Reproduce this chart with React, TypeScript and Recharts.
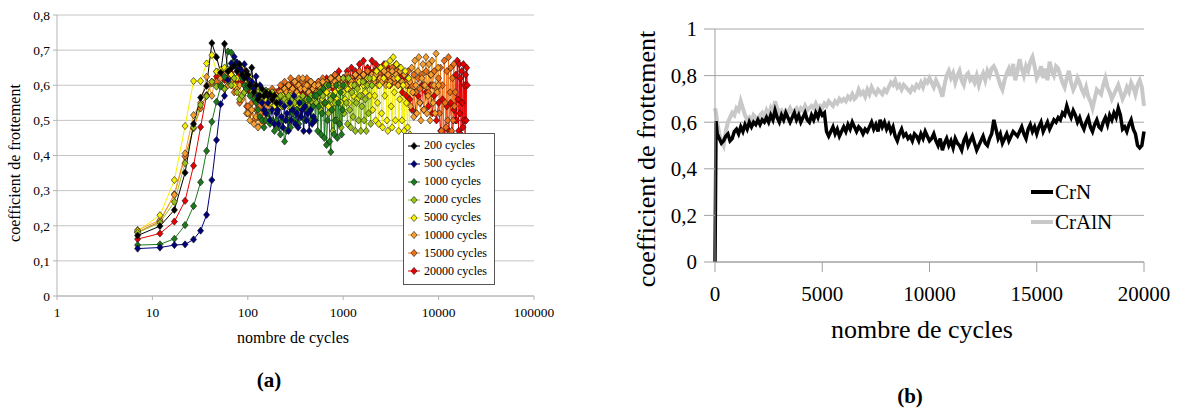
import { LineChart, Line, XAxis, YAxis, CartesianGrid, Legend } from "recharts"

const SERIF = "Liberation Serif"

// ---- panel (a): friction vs cycles (log x), one series per test length ----
const xRise = [7, 12, 17, 22, 27, 32, 37, 42, 47, 52, 57, 62, 67, 72, 77, 82, 87, 92, 97]
// coarse grid shared by all series before their own end segment
const xTail = [
  100, 105, 110, 116, 122, 128, 134, 141, 148, 155, 163, 171, 180, 190, 200,
  210, 220, 232, 243, 255, 268, 281, 295, 310, 326, 342, 359, 377, 396, 416, 437, 459, 482, 500,
  525, 550, 580, 610, 640, 670, 700, 740, 780, 820, 860, 900, 950, 1000,
  1050, 1100, 1160, 1220, 1280, 1340, 1410, 1480, 1550, 1630, 1710, 1800, 1900, 2000,
  2100, 2200, 2320, 2430, 2550, 2680, 2810, 2950, 3100, 3260, 3420, 3590, 3770, 3960, 4160, 4370, 4590, 4800, 5000,
  5250, 5500, 5800, 6100, 6400, 6700, 7000, 7400, 7800, 8200, 8600, 9000, 9500, 10000,
  10500, 11000, 11600, 12200, 12800, 13400, 14000, 14500, 15000,
]
// dense sampling in the last segment of each test
const xEnd500 = [205, 210, 218, 226, 234, 242, 250, 258, 267, 276, 285, 295, 305, 315, 326, 337, 348, 360, 372, 385, 398, 412, 426, 441, 456, 472, 488, 500]
const xEnd1000 = [510, 525, 540, 555, 570, 585, 600, 617, 634, 651, 668, 686, 704, 723, 742, 762, 782, 803, 824, 846, 868, 891, 914, 938, 962, 987, 1000]
const xEnd2000 = [1020, 1050, 1080, 1110, 1140, 1170, 1200, 1235, 1270, 1305, 1340, 1375, 1410, 1450, 1490, 1530, 1570, 1610, 1655, 1700, 1745, 1790, 1840, 1890, 1940, 2000]
const xEnd5000 = [
  2040, 2090, 2140, 2190, 2240, 2290, 2350, 2410, 2470, 2530, 2590, 2660, 2730, 2800, 2870, 2940, 3020, 3100,
  3180, 3260, 3350, 3440, 3530, 3620, 3720, 3820, 3920, 4030, 4140, 4250, 4360, 4480, 4600, 4730, 4860, 5000,
]
const xEnd10000 = [5100, 5230, 5360, 5490, 5630, 5770, 5910, 6060, 6210, 6360, 6520, 6680, 6850, 7020, 7190, 7370, 7550, 7740, 7930, 8130, 8330, 8540, 8750, 8970, 9190, 9420, 9650, 9880, 10000]
const xEnd15000 = [10200, 10450, 10700, 10950, 11200, 11450, 11700, 11950, 12200, 12450, 12700, 12950, 13200, 13450, 13700, 13950, 14200, 14450, 14700, 15000]
const xEnd20000 = [15200, 15450, 15700, 15950, 16200, 16450, 16700, 16950, 17200, 17450, 17700, 17950, 18200, 18450, 18700, 18950, 19200, 19450, 19700, 20000]

const rise200 = [0.172, 0.199, 0.245, 0.351, 0.49, 0.565, 0.598, 0.72, 0.68, 0.636, 0.718, 0.64, 0.648, 0.655, 0.64, 0.66, 0.63, 0.62, 0.64]
const tail200 = [0.63, 0.6, 0.65, 0.58, 0.6, 0.56, 0.57, 0.59, 0.57, 0.58, 0.57, 0.575, 0.56, 0.57, 0.55]

const rise500 = [0.135, 0.138, 0.145, 0.147, 0.161, 0.186, 0.231, 0.33, 0.444, 0.546, 0.57, 0.615, 0.662, 0.681, 0.665, 0.65, 0.64, 0.66, 0.63]
const tail500 = [0.62, 0.6, 0.61, 0.59, 0.625, 0.57, 0.6, 0.55, 0.53, 0.52, 0.55, 0.5, 0.53, 0.49, 0.52]
const end500 = [0.53, 0.49, 0.55, 0.51, 0.48, 0.54, 0.5, 0.52, 0.47, 0.55, 0.5, 0.53, 0.57, 0.49, 0.52, 0.48, 0.55, 0.51, 0.53, 0.47, 0.54, 0.5, 0.52, 0.47, 0.53, 0.49, 0.51, 0.5]

const rise1000 = [0.145, 0.147, 0.163, 0.202, 0.256, 0.324, 0.413, 0.496, 0.553, 0.596, 0.624, 0.696, 0.693, 0.67, 0.655, 0.64, 0.62, 0.6, 0.59]
const tail1000 = [
  0.6, 0.57, 0.6, 0.56, 0.55, 0.53, 0.51, 0.5, 0.48, 0.5, 0.52, 0.49, 0.5, 0.47, 0.5,
  0.48, 0.46, 0.5, 0.44, 0.47, 0.5, 0.48, 0.52, 0.5, 0.53, 0.49, 0.51, 0.55, 0.5, 0.53, 0.56, 0.5, 0.54, 0.57,
]
const end1000 = [0.5, 0.57, 0.47, 0.54, 0.58, 0.46, 0.52, 0.59, 0.45, 0.55, 0.43, 0.5, 0.6, 0.44, 0.41, 0.53, 0.57, 0.46, 0.5, 0.6, 0.45, 0.55, 0.49, 0.58, 0.46, 0.53, 0.6]

const rise2000 = [0.18, 0.209, 0.268, 0.378, 0.48, 0.544, 0.569, 0.61, 0.596, 0.6, 0.59, 0.61, 0.6, 0.62, 0.58, 0.56, 0.57, 0.58, 0.6]
const tail2000 = [
  0.62, 0.6, 0.58, 0.6, 0.57, 0.58, 0.56, 0.58, 0.57, 0.585, 0.58, 0.56, 0.58, 0.57, 0.56,
  0.55, 0.57, 0.54, 0.56, 0.55, 0.57, 0.54, 0.56, 0.55, 0.53, 0.56, 0.54, 0.57, 0.55, 0.56, 0.54, 0.57, 0.55, 0.56,
  0.55, 0.58, 0.53, 0.57, 0.55, 0.6, 0.52, 0.56, 0.47, 0.55, 0.5, 0.6, 0.48, 0.62,
]
const end2000 = [0.52, 0.6, 0.55, 0.49, 0.62, 0.53, 0.48, 0.58, 0.51, 0.6, 0.47, 0.55, 0.59, 0.5, 0.57, 0.47, 0.54, 0.61, 0.5, 0.56, 0.47, 0.6, 0.52, 0.62, 0.49, 0.6]

const rise5000 = [0.185, 0.23, 0.33, 0.484, 0.612, 0.612, 0.662, 0.686, 0.639, 0.643, 0.65, 0.645, 0.63, 0.6, 0.62, 0.64, 0.65, 0.63, 0.61]
const tail5000 = [
  0.6, 0.62, 0.58, 0.6, 0.57, 0.59, 0.57, 0.56, 0.58, 0.56, 0.57, 0.55, 0.56, 0.54, 0.55,
  0.56, 0.54, 0.57, 0.55, 0.56, 0.54, 0.57, 0.55, 0.56, 0.54, 0.57, 0.55, 0.56, 0.54, 0.56, 0.55, 0.57, 0.54, 0.56,
  0.55, 0.57, 0.54, 0.56, 0.55, 0.58, 0.54, 0.57, 0.55, 0.58, 0.56, 0.59, 0.55, 0.58,
  0.56, 0.59, 0.55, 0.6, 0.57, 0.6, 0.56, 0.61, 0.57, 0.6, 0.58, 0.62, 0.57, 0.6,
]
const end5000 = [
  0.53, 0.62, 0.57, 0.5, 0.64, 0.55, 0.49, 0.6, 0.65, 0.52, 0.48, 0.62, 0.57, 0.66, 0.5, 0.47, 0.6, 0.67,
  0.54, 0.48, 0.68, 0.58, 0.5, 0.66, 0.62, 0.47, 0.56, 0.65, 0.5, 0.6, 0.47, 0.64, 0.55, 0.48, 0.62, 0.46,
]

const rise10000 = [0.188, 0.216, 0.288, 0.406, 0.515, 0.55, 0.624, 0.57, 0.639, 0.62, 0.63, 0.6, 0.61, 0.62, 0.59, 0.6, 0.56, 0.58, 0.52]
const tail10000 = [
  0.52, 0.5, 0.53, 0.49, 0.51, 0.48, 0.52, 0.49, 0.5, 0.52, 0.54, 0.55, 0.56, 0.55, 0.57,
  0.56, 0.58, 0.57, 0.59, 0.58, 0.6, 0.58, 0.59, 0.61, 0.58, 0.6, 0.59, 0.62, 0.59, 0.6, 0.58, 0.61, 0.59, 0.6,
  0.58, 0.6, 0.59, 0.61, 0.58, 0.6, 0.59, 0.62, 0.6, 0.61, 0.59, 0.62, 0.6, 0.61,
  0.6, 0.62, 0.59, 0.61, 0.6, 0.63, 0.6, 0.62, 0.61, 0.63, 0.6, 0.62, 0.61, 0.63,
  0.61, 0.63, 0.6, 0.62, 0.61, 0.64, 0.6, 0.63, 0.61, 0.64, 0.62, 0.63, 0.6, 0.64, 0.61, 0.63, 0.6, 0.62, 0.61,
]
const end10000 = [
  0.54, 0.65, 0.58, 0.51, 0.67, 0.6, 0.52, 0.64, 0.68, 0.55, 0.5, 0.62, 0.66, 0.53, 0.6,
  0.68, 0.52, 0.57, 0.66, 0.5, 0.63, 0.67, 0.55, 0.6, 0.52, 0.69, 0.58, 0.65, 0.6,
]

const rise15000 = [0.182, 0.212, 0.29, 0.397, 0.477, 0.534, 0.57, 0.605, 0.61, 0.6, 0.59, 0.62, 0.6, 0.58, 0.6, 0.55, 0.57, 0.6, 0.54]
const tail15000 = [
  0.54, 0.52, 0.55, 0.5, 0.53, 0.51, 0.54, 0.52, 0.55, 0.56, 0.58, 0.57, 0.59, 0.58, 0.57,
  0.58, 0.6, 0.58, 0.61, 0.59, 0.6, 0.62, 0.59, 0.61, 0.6, 0.62, 0.59, 0.61, 0.6, 0.62, 0.6, 0.61, 0.59, 0.6,
  0.6, 0.61, 0.59, 0.62, 0.6, 0.61, 0.59, 0.62, 0.61, 0.63, 0.6, 0.62, 0.61, 0.62,
  0.61, 0.63, 0.6, 0.62, 0.61, 0.63, 0.6, 0.64, 0.61, 0.63, 0.62, 0.64, 0.61, 0.63,
  0.62, 0.64, 0.61, 0.63, 0.62, 0.65, 0.61, 0.64, 0.62, 0.65, 0.61, 0.64, 0.62, 0.65, 0.6, 0.63, 0.61, 0.64, 0.6,
  0.6, 0.63, 0.58, 0.62, 0.59, 0.63, 0.6, 0.64, 0.58, 0.63, 0.6, 0.64, 0.59, 0.62,
]
const end15000 = [0.52, 0.65, 0.47, 0.6, 0.45, 0.67, 0.55, 0.48, 0.64, 0.5, 0.68, 0.46, 0.58, 0.65, 0.47, 0.62, 0.5, 0.66, 0.54, 0.58]

const rise20000 = [0.162, 0.178, 0.212, 0.271, 0.371, 0.481, 0.572, 0.61, 0.625, 0.64, 0.615, 0.62, 0.635, 0.62, 0.61, 0.63, 0.61, 0.64, 0.6]
const tail20000 = [
  0.6, 0.58, 0.6, 0.57, 0.59, 0.56, 0.58, 0.55, 0.57, 0.56, 0.58, 0.56, 0.57, 0.56, 0.58,
  0.57, 0.59, 0.58, 0.6, 0.59, 0.58, 0.6, 0.57, 0.59, 0.58, 0.6, 0.58, 0.59, 0.57, 0.6, 0.58, 0.59, 0.6, 0.58,
  0.59, 0.61, 0.58, 0.6, 0.59, 0.62, 0.6, 0.61, 0.59, 0.63, 0.6, 0.64, 0.61, 0.62,
  0.62, 0.64, 0.61, 0.65, 0.62, 0.64, 0.63, 0.66, 0.62, 0.67, 0.63, 0.65, 0.64, 0.67,
  0.64, 0.66, 0.62, 0.65, 0.63, 0.66, 0.62, 0.65, 0.6, 0.64, 0.62, 0.66, 0.6, 0.63, 0.58, 0.62, 0.57, 0.6, 0.56,
  0.53, 0.58, 0.52, 0.57, 0.55, 0.6, 0.53, 0.58, 0.54, 0.6, 0.52, 0.57, 0.5, 0.55,
  0.47, 0.56, 0.45, 0.54, 0.47, 0.55, 0.46, 0.53, 0.5,
]
const end20000 = [0.63, 0.5, 0.67, 0.56, 0.47, 0.66, 0.52, 0.62, 0.46, 0.64, 0.55, 0.48, 0.66, 0.5, 0.6, 0.45, 0.63, 0.5, 0.65, 0.6]

const namesA = ["200 cycles", "500 cycles", "1000 cycles", "2000 cycles", "5000 cycles", "10000 cycles", "15000 cycles", "20000 cycles"]
const colorsA = ["#000000", "#00007a", "#1c7a1c", "#99c21a", "#f5f000", "#f7a030", "#f07018", "#e80000"]
const risesA = [rise200, rise500, rise1000, rise2000, rise5000, rise10000, rise15000, rise20000]
const tailsA = [tail200, tail500, tail1000, tail2000, tail5000, tail10000, tail15000, tail20000]
const endXA = [[], xEnd500, xEnd1000, xEnd2000, xEnd5000, xEnd10000, xEnd15000, xEnd20000]
const endYA = [[], end500, end1000, end2000, end5000, end10000, end15000, end20000]

const yTicksA = [0, 0.1, 0.2, 0.3, 0.4, 0.5, 0.6, 0.7, 0.8]
const xTicksA = [1, 10, 100, 1000, 10000, 100000]

// ---- panel (b): CrN vs CrAlN, linear x, one row per 1000 cycles ----
const xB = [
  0, 50,
  100, 200, 300, 400, 500, 600, 700, 800, 900, 1000,
  1100, 1200, 1300, 1400, 1500, 1600, 1700, 1800, 1900, 2000,
  2100, 2200, 2300, 2400, 2500, 2600, 2700, 2800, 2900, 3000,
  3100, 3200, 3300, 3400, 3500, 3600, 3700, 3800, 3900, 4000,
  4100, 4200, 4300, 4400, 4500, 4600, 4700, 4800, 4900, 5000,
  5100, 5200, 5300, 5400, 5500, 5600, 5700, 5800, 5900, 6000,
  6100, 6200, 6300, 6400, 6500, 6600, 6700, 6800, 6900, 7000,
  7100, 7200, 7300, 7400, 7500, 7600, 7700, 7800, 7900, 8000,
  8100, 8200, 8300, 8400, 8500, 8600, 8700, 8800, 8900, 9000,
  9100, 9200, 9300, 9400, 9500, 9600, 9700, 9800, 9900, 10000,
  10100, 10200, 10300, 10400, 10500, 10600, 10700, 10800, 10900, 11000,
  11100, 11200, 11300, 11400, 11500, 11600, 11700, 11800, 11900, 12000,
  12100, 12200, 12300, 12400, 12500, 12600, 12700, 12800, 12900, 13000,
  13100, 13200, 13300, 13400, 13500, 13600, 13700, 13800, 13900, 14000,
  14100, 14200, 14300, 14400, 14500, 14600, 14700, 14800, 14900, 15000,
  15100, 15200, 15300, 15400, 15500, 15600, 15700, 15800, 15900, 16000,
  16100, 16200, 16300, 16400, 16500, 16600, 16700, 16800, 16900, 17000,
  17100, 17200, 17300, 17400, 17500, 17600, 17700, 17800, 17900, 18000,
  18100, 18200, 18300, 18400, 18500, 18600, 18700, 18800, 18900, 19000,
  19100, 19200, 19300, 19400, 19500, 19600, 19700, 19800, 19900, 20000,
]
const crN = [
  0, 0.605,
  0.55, 0.53, 0.51, 0.52, 0.54, 0.55, 0.52, 0.53, 0.56, 0.57,
  0.55, 0.58, 0.56, 0.59, 0.57, 0.6, 0.58, 0.6, 0.59, 0.61,
  0.59, 0.61, 0.6, 0.62, 0.6, 0.63, 0.61, 0.65, 0.62, 0.6,
  0.63, 0.61, 0.64, 0.62, 0.6, 0.62, 0.64, 0.61, 0.63, 0.6,
  0.62, 0.64, 0.61, 0.6, 0.63, 0.61, 0.64, 0.62, 0.65, 0.63,
  0.64, 0.56, 0.54, 0.56, 0.58, 0.55, 0.57, 0.54, 0.56, 0.58,
  0.56, 0.59, 0.57, 0.6, 0.58, 0.56, 0.58, 0.57, 0.55, 0.57,
  0.56, 0.58, 0.6, 0.57, 0.59, 0.56, 0.61, 0.58, 0.6, 0.57,
  0.59, 0.56, 0.58, 0.54, 0.52, 0.55, 0.57, 0.54, 0.55, 0.53,
  0.54, 0.52, 0.55, 0.54, 0.52, 0.55, 0.53, 0.56, 0.54, 0.52,
  0.53, 0.55, 0.52, 0.5, 0.53, 0.48, 0.51, 0.53, 0.5, 0.52,
  0.49, 0.53, 0.51, 0.5, 0.48, 0.52, 0.54, 0.5, 0.52, 0.54,
  0.51, 0.48, 0.5, 0.52, 0.54, 0.51, 0.5, 0.53, 0.55, 0.61,
  0.57, 0.53, 0.55, 0.51, 0.53, 0.55, 0.52, 0.54, 0.56, 0.55,
  0.54, 0.56, 0.58, 0.55, 0.53, 0.57, 0.59, 0.56, 0.58, 0.55,
  0.58, 0.6, 0.56, 0.58, 0.6, 0.57, 0.59, 0.61, 0.6, 0.62,
  0.61, 0.64, 0.63, 0.67, 0.64, 0.62, 0.65, 0.63, 0.6, 0.62,
  0.59, 0.57, 0.6, 0.62, 0.58, 0.56, 0.59, 0.61, 0.58, 0.57,
  0.6, 0.62, 0.59, 0.63, 0.61, 0.64, 0.62, 0.66, 0.63, 0.57,
  0.58, 0.56, 0.59, 0.61, 0.57, 0.55, 0.5, 0.49, 0.5, 0.56,
]
const crAlN = [
  0.66, 0.64,
  0.6, 0.55, 0.52, 0.5, 0.56, 0.6, 0.62, 0.64, 0.63, 0.66,
  0.65, 0.69, 0.66, 0.63, 0.61, 0.62, 0.6, 0.63, 0.62, 0.61,
  0.63, 0.64, 0.62, 0.65, 0.63, 0.66, 0.64, 0.69, 0.66, 0.64,
  0.65, 0.63, 0.65, 0.64, 0.66, 0.64, 0.65, 0.66, 0.64, 0.66,
  0.65, 0.67, 0.65, 0.66, 0.67, 0.66, 0.68, 0.66, 0.67, 0.66,
  0.68, 0.67, 0.69, 0.68, 0.67, 0.69, 0.68, 0.7, 0.69, 0.7,
  0.69, 0.71, 0.7, 0.72, 0.7, 0.71, 0.74, 0.72, 0.73, 0.71,
  0.74, 0.72, 0.75, 0.73, 0.72, 0.74, 0.73, 0.72, 0.74, 0.73,
  0.75, 0.77, 0.76, 0.78, 0.75, 0.76, 0.74, 0.76, 0.75, 0.74,
  0.73, 0.75, 0.74, 0.76, 0.75, 0.77, 0.75, 0.78, 0.77, 0.79,
  0.77, 0.75, 0.78, 0.76, 0.74, 0.71, 0.76, 0.8, 0.82, 0.79,
  0.81, 0.77, 0.8, 0.82, 0.78, 0.76, 0.8, 0.81, 0.78, 0.79,
  0.77, 0.8, 0.76, 0.79, 0.81, 0.78, 0.82, 0.8, 0.83, 0.84,
  0.82, 0.79, 0.76, 0.74, 0.78, 0.81, 0.83, 0.8, 0.85, 0.78,
  0.82, 0.87, 0.83, 0.8, 0.84, 0.82, 0.86, 0.88, 0.84, 0.79,
  0.81, 0.84, 0.79, 0.83, 0.78, 0.86, 0.82, 0.8, 0.84, 0.83,
  0.8, 0.77, 0.75, 0.79, 0.82, 0.77, 0.74, 0.76, 0.79, 0.77,
  0.74, 0.72, 0.75, 0.71, 0.69, 0.66, 0.7, 0.74, 0.73, 0.72,
  0.76, 0.79, 0.75, 0.73, 0.7, 0.72, 0.74, 0.76, 0.73, 0.7,
  0.72, 0.75, 0.73, 0.77, 0.75, 0.72, 0.76, 0.78, 0.75, 0.67,
]
const yTicksB = [0, 0.2, 0.4, 0.6, 0.8, 1]
const xTicksB = [0, 5000, 10000, 15000, 20000]

const seriesA = namesA.map((name, i) => {
  const xs = xRise.concat(xTail.slice(0, tailsA[i].length), endXA[i])
  const ys = risesA[i].concat(tailsA[i], endYA[i])
  return { name, color: colorsA[i], data: ys.map((y, j) => ({ x: xs[j], y })) }
})
const dataCrN = xB.map((x, i) => ({ x, y: crN[i] }))
const dataCrAlN = xB.map((x, i) => ({ x, y: crAlN[i] }))

const comma = (v: number) => String(v).replace(".", ",")

const diamond = (cx: number, cy: number, r: number) =>
  `M${cx},${cy - r}L${cx + r * 0.85},${cy}L${cx},${cy + r}L${cx - r * 0.85},${cy}Z`

const makeDot = (color: string) => (p: any) => {
  if (p.cx == null || p.cy == null) return <g key={p.index} />
  return <path key={p.index} d={diamond(p.cx, p.cy, 3.6)} fill={color} stroke="#111" strokeWidth={0.6} />
}

const tickA = { fill: "#000", fontFamily: SERIF, fontSize: 13.5 }
const tickB = { fill: "#000", fontFamily: SERIF, fontSize: 21 }

function LegendA() {
  return (
    <div style={{ boxSizing: "border-box", width: 92, height: 152, border: "1px solid #555", background: "#fff", padding: "3px 0 0 4px", fontFamily: SERIF, fontSize: 12, fontWeight: 400, color: "#000" }}>
      {seriesA.map(s => (
        <div key={s.name} style={{ display: "flex", alignItems: "center", height: 17.9 }}>
          <svg width={12} height={10}>
            <line x1={0} y1={5} x2={12} y2={5} stroke={s.color} />
            <path d={diamond(6, 5, 3.6)} fill={s.color} stroke="#111" strokeWidth={0.6} />
          </svg>
          <span style={{ marginLeft: 4 }}>{s.name}</span>
        </div>
      ))}
    </div>
  )
}

function LegendB() {
  const items = [{ name: "CrN", color: "#000" }, { name: "CrAlN", color: "#c8c8c8" }]
  return (
    <div style={{ fontFamily: SERIF, fontSize: 21, fontWeight: 400, color: "#000" }}>
      {items.map(it => (
        <div key={it.name} style={{ display: "flex", alignItems: "center", height: 30 }}>
          <div style={{ width: 22, height: 4, background: it.color }} />
          <span style={{ marginLeft: 2 }}>{it.name}</span>
        </div>
      ))}
    </div>
  )
}

const title = (text: string, cx: number, cy: number, size: number, rotate = false, bold = false) => (
  <div style={{
    position: "absolute", left: cx, top: cy, whiteSpace: "nowrap", fontFamily: SERIF, fontSize: size,
    fontWeight: bold ? 700 : 400, lineHeight: 1, color: "#000",
    transform: `translate(-50%, -50%)${rotate ? " rotate(-90deg)" : ""}`,
  }}>{text}</div>
)

export default function App() {
  return (
    <div style={{ position: "absolute", left: 0, top: 0, width: 1179, height: 409, background: "#fff", fontFamily: SERIF }}>
      <div style={{ position: "absolute", left: 0, top: 0 }}>
        <LineChart width={560} height={409} margin={{ top: 15, right: 26, bottom: 63, left: 12 }} style={{ fontFamily: SERIF }}>
          <CartesianGrid horizontal vertical={false} stroke="#c4c4c4" />
          <XAxis
            dataKey="x" type="number" scale="log" domain={[1, 100000]} ticks={xTicksA}
            height={50} tickSize={4} tickMargin={7} stroke="#b4b4b4" tick={tickA}
          />
          <YAxis
            type="number" domain={[0, 0.8]} ticks={yTicksA} width={45} tickSize={4} tickMargin={3}
            stroke="#b4b4b4" tickFormatter={comma} tick={tickA}
          />
          {[...seriesA].reverse().map(s => (
            <Line
              key={s.name} data={s.data} dataKey="y" name={s.name} stroke={s.color} strokeWidth={1}
              dot={makeDot(s.color)} activeDot={false} isAnimationActive={false}
            />
          ))}
          <Legend layout="vertical" align="center" verticalAlign="middle" content={() => <LegendA />}
            wrapperStyle={{ left: 403, top: 133, width: 92, height: 152 }} />
        </LineChart>
      </div>
      {title("coefficient de frottement", 15, 163, 16, true)}
      {title("nombre de cycles", 293, 338, 16)}
      {title("(a)", 269, 380, 21, false, true)}

      <div style={{ position: "absolute", left: 600, top: 0 }}>
        <LineChart width={579} height={409} margin={{ top: 29, right: 35, bottom: 87, left: 0 }} style={{ fontFamily: SERIF }}>
          <CartesianGrid horizontal vertical={false} stroke="#a8a8a8" />
          <XAxis
            dataKey="x" type="number" domain={[0, 20000]} ticks={xTicksB}
            height={60} tickSize={10} tickMargin={14} stroke="#a0a0a0" tick={tickB}
          />
          <YAxis
            type="number" domain={[0, 1]} ticks={yTicksB} width={115} tickSize={11} tickMargin={7}
            stroke="#a0a0a0" tickFormatter={comma} tick={tickB}
          />
          <Line data={dataCrAlN} dataKey="y" name="CrAlN" stroke="#c8c8c8" strokeWidth={4} dot={false} activeDot={false} isAnimationActive={false} />
          <Line data={dataCrN} dataKey="y" name="CrN" stroke="#000" strokeWidth={3.5} dot={false} activeDot={false} isAnimationActive={false} />
          <Legend layout="vertical" align="center" verticalAlign="middle" content={() => <LegendB />}
            wrapperStyle={{ left: 431, top: 177, width: 90, height: 60 }} />
        </LineChart>
      </div>
      {title("coefficient de frottement", 647, 159, 26, true)}
      {title("nombre de cycles", 922, 330, 26)}
      {title("(b)", 910, 396, 21, false, true)}
    </div>
  )
}
